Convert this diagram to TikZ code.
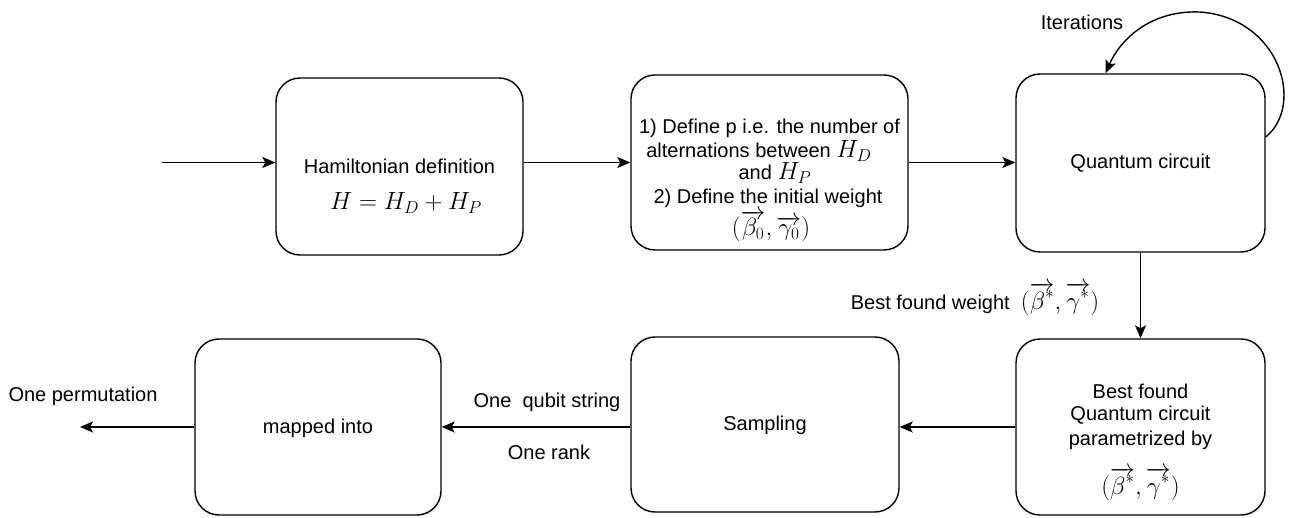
\documentclass[tikz,border=0pt]{standalone}
\usepackage{fontspec}
\setmainfont{Liberation Sans}
\usetikzlibrary{arrows.meta,calc}
\newcommand\mth[1]{{\fontsize{25}{26}\selectfont$#1$}}
\begin{document}
\begin{tikzpicture}[x=1pt,y=1pt,
  box/.style={draw,line width=1.4pt,rounded corners=24pt,inner sep=0pt},
  txt/.style={inner sep=0pt,align=center,font=\fontsize{20}{24}\selectfont},
  arr/.style={line width=1.4pt,-{Stealth[length=13pt,width=11pt,inset=3pt]}}]
\useasboundingbox (0,0) rectangle (1296,-518);
% boxes
\node[box,minimum width=247pt,minimum height=177pt] (b1) at (399.5,-166.5) {};
\node[box,minimum width=277pt,minimum height=175pt] (b2) at (769.5,-162.5) {};
\node[box,minimum width=249pt,minimum height=178pt] (b3) at (1140.5,-163) {};
\node[box,minimum width=249pt,minimum height=176pt] (b4) at (1140.5,-427) {};
\node[box,minimum width=268pt,minimum height=175pt] (b5) at (765,-424.5) {};
\node[box,minimum width=246pt,minimum height=176pt] (b6) at (318,-427) {};
% box texts
\node[txt] (t1a) at (399.5,-166) {Hamiltonian definition};
\node[txt] (t1b) at (406,-203) {\mth{H = H_D + H_P}};
\node[txt] (t2a) at (769.5,-128) {1) Define p i.e. the number of};
\node[txt] (t2b) at (759,-151) {alternations between \mth{H_D}};
\node[txt] (t2c) at (775,-173) {and \mth{H_P}};
\node[txt] (t2d) at (768,-198) {2) Define the initial weight};
\node[txt] (t2e) at (771,-226) {\mth{(\overrightarrow{\beta_0},\overrightarrow{\gamma_0})}};
\node[txt] (t3) at (1140.5,-163) {Quantum circuit};
\node[txt] (t4a) at (1140.5,-391) {Best found};
\node[txt] (t4b) at (1140.5,-415) {Quantum circuit};
\node[txt] (t4c) at (1140.5,-440) {parametrized by};
\node[txt] (t4d) at (1140.5,-484) {\mth{(\overrightarrow{\beta^*},\overrightarrow{\gamma^*})}};
\node[txt] (t5) at (765,-425) {Sampling};
\node[txt] (t6) at (318,-428) {mapped into};
% connectors
\coordinate (in) at (162,-162.5);
\coordinate (out) at (80,-427);
\draw[arr] (in) -- (b1.west |- in);
\draw[arr] (b1.east |- b2.west) -- (b2.west);
\draw[arr] (b2.east) -- (b3.west |- b2.east);
\draw[arr] (b3.south) -- (b4.north);
\draw[arr] (b4.west) -- (b5.east |- b4.west);
\draw[arr] (b5.west |- b6.east) -- (b6.east);
\draw[arr] (b6.west) -- (out);
\draw[arr] ($(b3.east)+(0,26)$) .. controls (1305,-105) and (1280,-18) .. (1200,-12)
  .. controls (1150,-10) and (1120,-40) .. ($(b3.north)+(-35,0)$);
% labels
\node[txt] (l1) at (1082,-22) {Iterations};
\node[txt] (l2) at (975,-299) {Best found weight\ \ \mth{(\overrightarrow{\beta^*},\overrightarrow{\gamma^*})}};
\node[txt] (l3) at (83,-396) {One permutation};
\node[txt] (l4) at (547,-402) {One\ \ qubit string};
\node[txt] (l5) at (549,-452) {One rank};
\end{tikzpicture}
\end{document}
